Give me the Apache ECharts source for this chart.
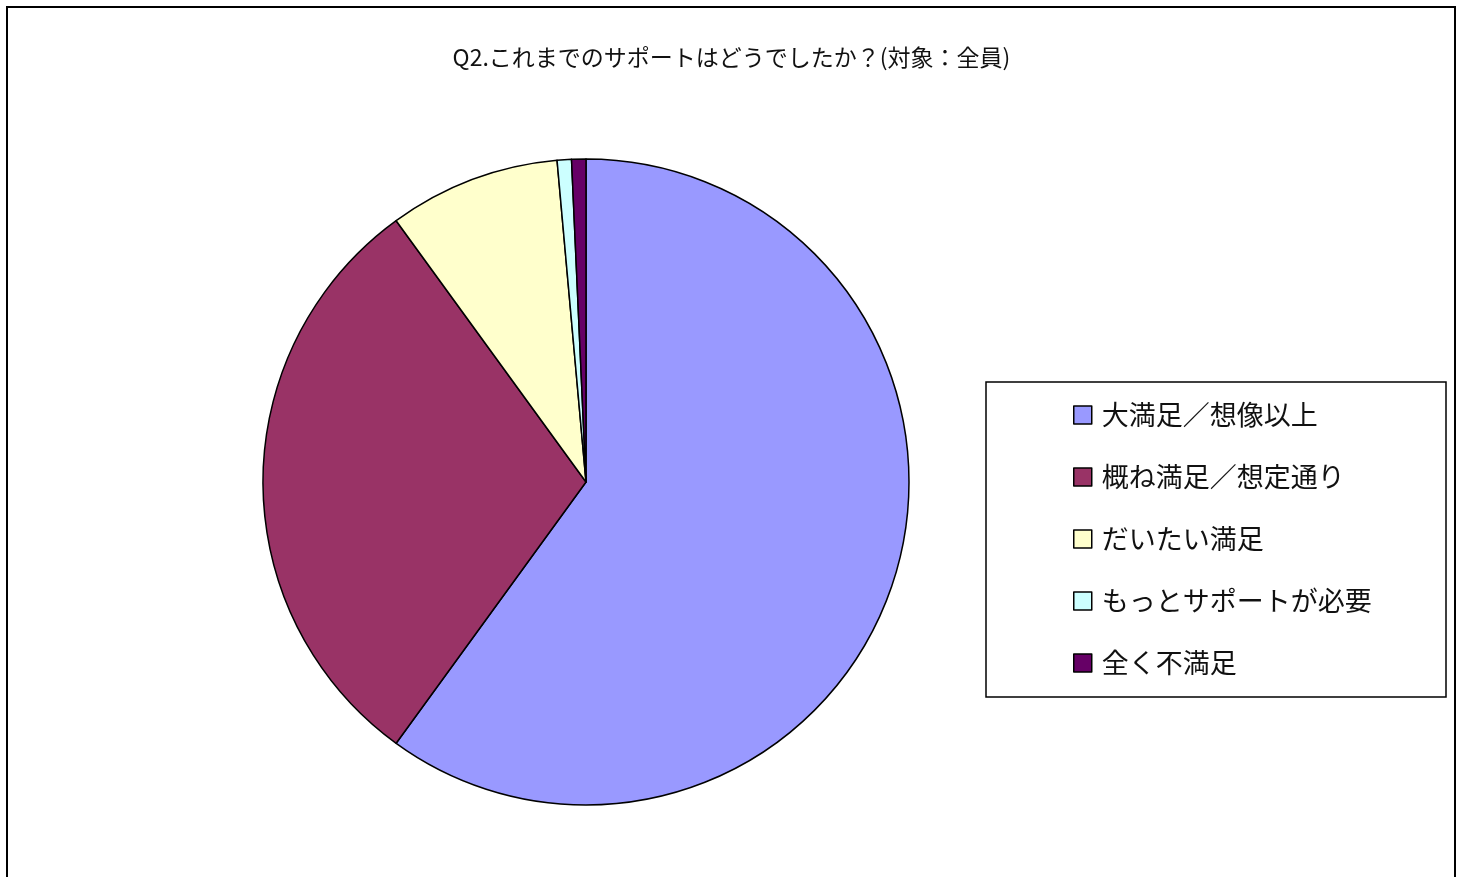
<!DOCTYPE html>
<html>
<head>
<meta charset="utf-8">
<script src="https://cdn.jsdelivr.net/npm/echarts@6/dist/echarts.min.js"></script>
<style>html,body{margin:0;padding:0;background:#fff}#c{width:1463px;height:877px}</style>
</head>
<body>
<div id="c"></div>
<script>
const titleText = 'Q2.これまでのサポートはどうでしたか？(対象：全員)';
const categories = ['大満足／想像以上', '概ね満足／想定通り', 'だいたい満足', 'もっとサポートが必要', '全く不満足'];
const values = [84, 42, 12, 1, 1];
const colors = ['#9999FF', '#993366', '#FFFFCC', '#CCFFFF', '#660066'];

const font = '"Noto Sans CJK JP", "Noto Sans", sans-serif';
const chart = echarts.init(document.getElementById('c'));
chart.setOption({
  animation: false,
  backgroundColor: '#ffffff',
  title: {
    text: titleText,
    left: 'center',
    top: 41,
    textStyle: { fontFamily: font, fontSize: 23, fontWeight: 'normal', color: '#111' }
  },
  graphic: [
    { type: 'rect', shape: { x: 7, y: 7, width: 1448, height: 900 }, style: { fill: 'none', stroke: '#000', lineWidth: 2 }, silent: true },
    { type: 'rect', shape: { x: 986, y: 382, width: 460, height: 315 }, style: { fill: '#fff', stroke: '#000', lineWidth: 1.5 }, silent: true, z: -1 }
  ],
  legend: {
    orient: 'vertical',
    left: 1068,
    top: 395,
    icon: 'rect',
    itemWidth: 18,
    itemHeight: 18,
    itemGap: 32,
    selectedMode: false,
    itemStyle: { borderColor: '#000', borderWidth: 1.5 },
    textStyle: { fontFamily: font, fontSize: 27, color: '#111', lineHeight: 30, padding: [0, 0, 0, 5] },
    data: categories
  },
  series: [{
    type: 'pie',
    center: [586, 482],
    radius: 323,
    startAngle: 90,
    clockwise: true,
    label: { show: false },
    labelLine: { show: false },
    itemStyle: { borderColor: '#000', borderWidth: 1.5 },
    emphasis: { disabled: true },
    data: categories.map((n, i) => ({ name: n, value: values[i], itemStyle: { color: colors[i] } }))
  }]
});
</script>
</body>
</html>
